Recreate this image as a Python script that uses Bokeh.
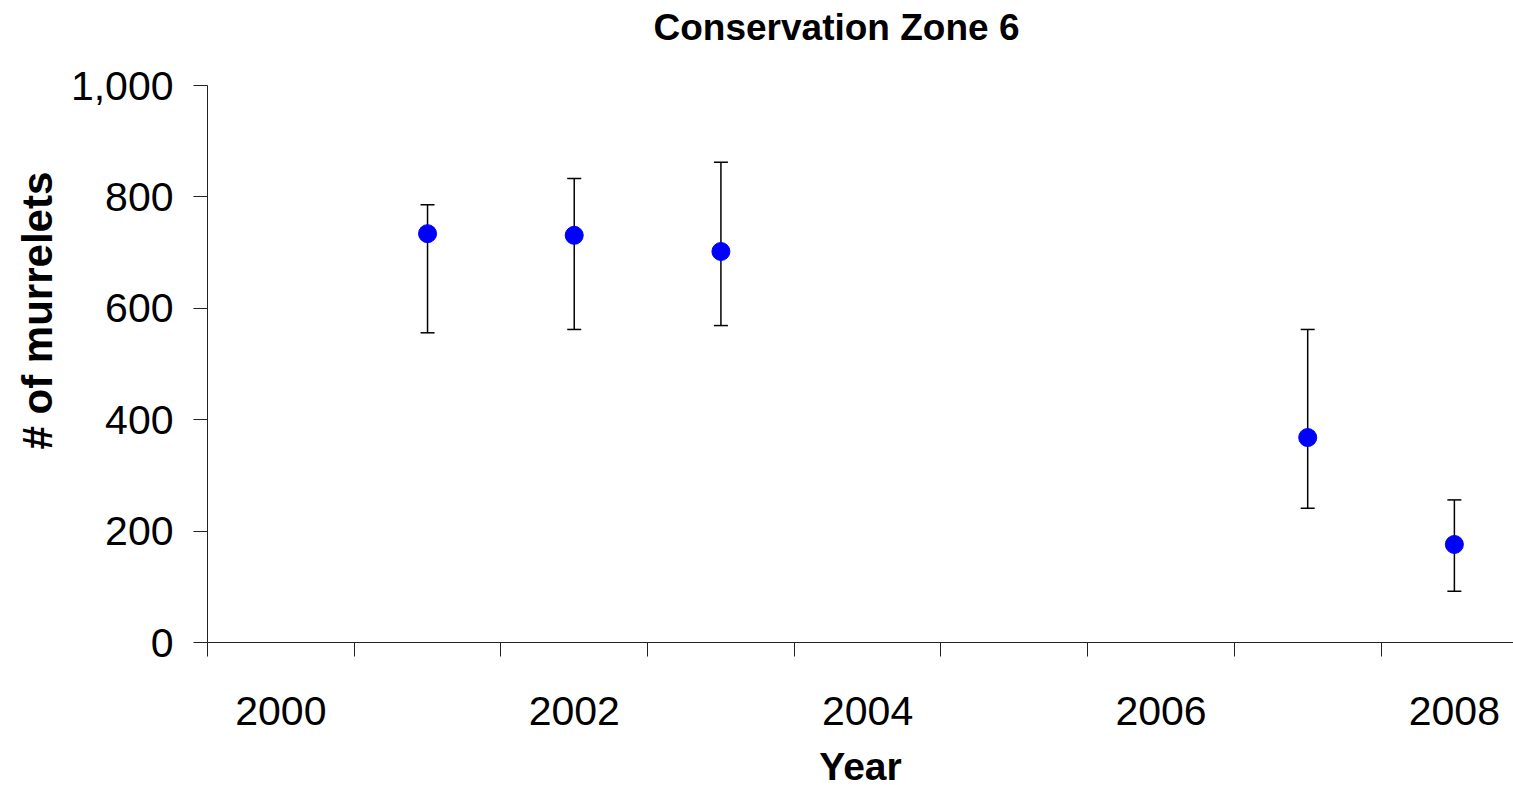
from bokeh.plotting import figure
from bokeh.models import (ColumnDataSource, Whisker, TeeHead, FixedTicker,
                          NumeralTickFormatter, Range1d, Title)
from bokeh.embed import file_html
from bokeh.resources import INLINE

# ---- data ----
years = [2001, 2002, 2003, 2007, 2008]
estimates = [734, 731, 702, 368, 176]
upper = [786, 833, 862, 562, 256]
lower = [556, 562, 569, 241, 92]

label_years = [2000, 2002, 2004, 2006, 2008]
all_years = list(range(2000, 2009))
y_ticks = [0, 200, 400, 600, 800, 1000]

FONT = "Liberation Sans"

src = ColumnDataSource(data=dict(year=years, est=estimates, upper=upper, lower=lower))

x_start = all_years[0] - 0.5
x_end = x_start + 8.903

p = figure(width=1513, height=790, output_backend="svg", toolbar_location=None,
           x_range=Range1d(x_start, x_end), y_range=Range1d(0, 1000),
           min_border_left=207, min_border_right=0, min_border_top=0,
           min_border_bottom=147)

p.outline_line_color = None
p.xgrid.grid_line_color = None
p.ygrid.grid_line_color = None
p.background_fill_color = "white"
p.border_fill_color = "white"

# title
p.title.text = "Conservation Zone 6"
p.title.text_font = FONT
p.title.text_font_size = "37px"
p.title.text_font_style = "bold"
p.title.text_color = "black"
p.title.align = "left"
p.title.offset = 446
p.title.standoff = 8

# spacer between the title and the plot area
spacer = Title(text=" ", text_font_size="20px", standoff=10, text_color="white")
p.add_layout(spacer, "above")

# x axis
xa = p.xaxis[0]
xa.ticker = FixedTicker(ticks=all_years, minor_ticks=[y - 0.5 for y in all_years] + [all_years[-1] + 0.5])
xa.major_label_overrides = {y: (str(y) if y in label_years else "") for y in all_years}
xa.major_tick_out = 0
xa.major_tick_in = 0
xa.minor_tick_out = 14
xa.minor_tick_in = 0
xa.minor_tick_line_color = "#222222"
xa.axis_line_color = "#222222"
xa.major_label_text_font = FONT
xa.major_label_text_font_size = "41px"
xa.major_label_text_color = "black"
xa.major_label_standoff = 40
xa.axis_label = "Year"
xa.axis_label_text_font = FONT
xa.axis_label_text_font_size = "39px"
xa.axis_label_text_font_style = "bold"
xa.axis_label_text_color = "black"
xa.axis_label_standoff = 17

# y axis
ya = p.yaxis[0]
ya.ticker = FixedTicker(ticks=y_ticks)
ya.formatter = NumeralTickFormatter(format="0,0")
ya.major_tick_out = 14
ya.major_tick_in = 0
ya.minor_tick_out = 0
ya.minor_tick_in = 0
ya.major_tick_line_color = "#222222"
ya.axis_line_color = "#222222"
ya.major_label_text_font = FONT
ya.major_label_text_font_size = "41px"
ya.major_label_text_color = "black"
ya.major_label_standoff = 20

# y axis title (placed off-centre like the reference)
ytitle = Title(text="# of murrelets", align="left", offset=193, standoff=14,
               text_font=FONT, text_font_size="42px", text_font_style="bold",
               text_color="black")
p.add_layout(ytitle, "left")

# error bars
wh = Whisker(source=src, base="year", upper="upper", lower="lower",
             line_color="black", line_width=1.5,
             upper_head=TeeHead(size=14, line_color="black", line_width=1.5),
             lower_head=TeeHead(size=14, line_color="black", line_width=1.5))
p.add_layout(wh)

# points
p.scatter(x="year", y="est", source=src, size=18, marker="circle",
          fill_color="#0000FF", line_color="#0000FF")

open("out.html", "w").write(file_html(p, INLINE))
